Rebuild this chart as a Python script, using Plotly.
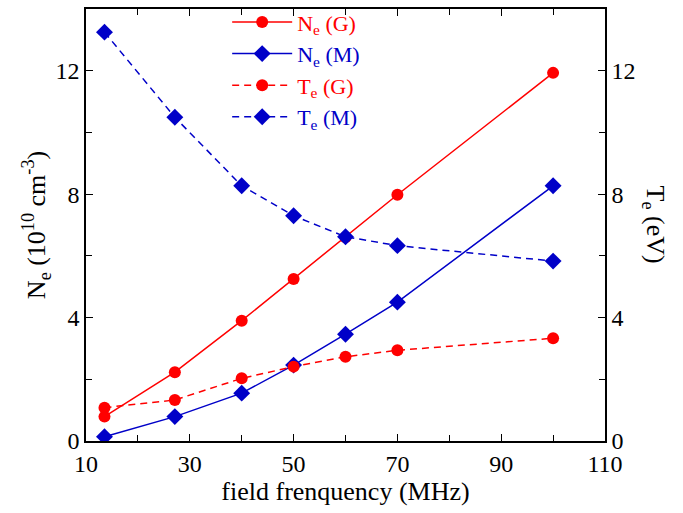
import plotly.graph_objects as go

freq = [13.56, 27.12, 40, 50, 60, 70, 100]
ne_g = [0.79, 2.23, 3.90, 5.25, 6.60, 7.98, 11.93]
ne_m = [0.14, 0.79, 1.55, 2.46, 3.46, 4.50, 8.27]
te_g = [1.08, 1.33, 2.03, 2.41, 2.73, 2.94, 3.33]
te_m = [13.25, 10.49, 8.27, 7.30, 6.62, 6.33, 5.83]

RED = "#FF0000"
BLUE = "#0000C8"
FONT = "Liberation Serif, Times New Roman, serif"


def colored(txt, c):
    return '<span style="color:%s">%s</span>' % (c, txt)


fig = go.Figure()
fig.add_trace(go.Scatter(x=freq, y=ne_g, mode="lines+markers", name=colored("N<sub>e</sub> (G)", RED),
                         line=dict(color=RED, width=1.5),
                         marker=dict(symbol="circle", size=12, color=RED)))
fig.add_trace(go.Scatter(x=freq, y=ne_m, mode="lines+markers", name=colored("N<sub>e</sub> (M)", BLUE),
                         line=dict(color=BLUE, width=1.5),
                         marker=dict(symbol="diamond", size=13, color=BLUE)))
fig.add_trace(go.Scatter(x=freq, y=te_g, mode="lines+markers", name=colored("T<sub>e</sub> (G)", RED), yaxis="y2",
                         line=dict(color=RED, width=1.5, dash="7px,5px"),
                         marker=dict(symbol="circle", size=12, color=RED)))
fig.add_trace(go.Scatter(x=freq, y=te_m, mode="lines+markers", name=colored("T<sub>e</sub> (M)", BLUE), yaxis="y2",
                         line=dict(color=BLUE, width=1.5, dash="7px,5px"),
                         marker=dict(symbol="diamond", size=13, color=BLUE)))

axis_common = dict(showgrid=False, zeroline=False, showline=True, linecolor="black", linewidth=1.5,
                   ticks="inside", ticklen=7, tickcolor="black", tickwidth=1.2,
                   tickfont=dict(family=FONT, size=24, color="black"))

fig.update_layout(
    width=683, height=513,
    margin=dict(l=86, r=78, t=9, b=72, autoexpand=False),
    paper_bgcolor="white", plot_bgcolor="white",
    font=dict(family=FONT, color="black"),
    xaxis=dict(range=[10, 110], tick0=10, dtick=20, mirror="ticks",
               minor=dict(dtick=10, ticks="inside", ticklen=6, tickcolor="black", tickwidth=1.2),
               title=dict(text="field frenquency (MHz)", font=dict(family=FONT, size=26), standoff=4),
               **axis_common),
    yaxis=dict(range=[0, 14], tick0=0, dtick=4,
               minor=dict(dtick=2, ticks="inside", ticklen=6, tickcolor="black", tickwidth=1.2),
               title=dict(text="N<sub>e</sub> (10<sup>10</sup> cm<sup>-3</sup>)", font=dict(family=FONT, size=26),
                          standoff=2),
               **axis_common),
    yaxis2=dict(range=[0, 14], tick0=0, dtick=4, overlaying="y", side="right",
                minor=dict(dtick=2, ticks="inside", ticklen=6, tickcolor="black", tickwidth=1.2),
                **axis_common),
    legend=dict(x=0.272, y=1.018, xanchor="left", yanchor="top", bgcolor="rgba(0,0,0,0)",
                font=dict(family=FONT, size=22), tracegroupgap=0, itemwidth=60),
    showlegend=True,
    annotations=[dict(text="T<sub>e</sub> (eV)", textangle=90, xref="paper", yref="paper",
                      x=1.13, y=0.5, showarrow=False, font=dict(family=FONT, size=26, color="black"))],
)

fig.write_html("out.html")
